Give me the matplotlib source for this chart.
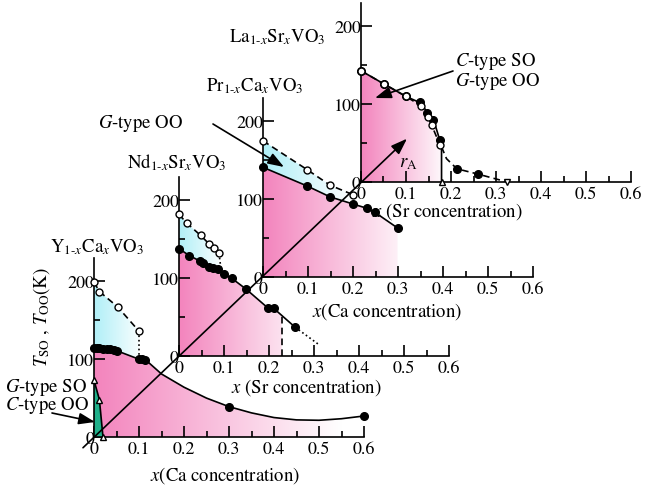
import numpy as np
import matplotlib
matplotlib.use("Agg")
import matplotlib.pyplot as plt
from matplotlib.colors import LinearSegmentedColormap

plt.rcParams["font.family"] = ["STIXGeneral", "DejaVu Serif"]
plt.rcParams["mathtext.fontset"] = "stix"
plt.rcParams["font.size"] = 13

# ---- data ----
# Y1-xCaxVO3
y_oo_x = [0, 0.012, 0.053, 0.1]
y_oo_t = [199, 187, 167, 136]
y_so_px = [0, 0.006, 0.012, 0.02, 0.028, 0.036, 0.045, 0.052, 0.1, 0.107, 0.114, 0.3, 0.6]
y_so_pt = [115, 114.5, 114, 113.5, 113, 112.5, 112, 111, 100, 100, 99.5, 39, 27]
y_so_cx = [0, 0.05, 0.1, 0.115, 0.15, 0.2, 0.25, 0.3, 0.35, 0.4, 0.45, 0.5, 0.55, 0.6]
y_so_ct = [115, 111, 100, 99, 81, 64, 50, 39, 31, 25, 22, 21.5, 23.5, 27]
y_g_x = [0, 0.012, 0.02]
y_g_t = [73, 48, 0]

# Nd1-xSrxVO3
nd_oo_x = [0, 0.017, 0.048, 0.067, 0.078, 0.089]
nd_oo_t = [182, 171, 155, 144, 139, 132]
nd_so_x = [0, 0.023, 0.047, 0.053, 0.067, 0.076, 0.087, 0.1, 0.117, 0.149, 0.198, 0.21, 0.258]
nd_so_t = [138, 129, 122, 120, 114, 113, 111.5, 105, 100, 86, 61.5, 61.5, 37]
nd_tail_x = [0.258, 0.31]
nd_tail_t = [37, 15]
nd_cut_x = 0.228

# Pr1-xCaxVO3
pr_oo_x = [0, 0.098, 0.149, 0.199]
pr_oo_t = [175, 138, 118, 106]
pr_so_x = [0, 0.098, 0.149, 0.199, 0.23, 0.249, 0.299]
pr_so_t = [141, 117, 103, 94, 88.5, 83, 63]

# La1-xSrxVO3
la_so_x = [0, 0.051, 0.1, 0.131, 0.147, 0.159, 0.176]
la_so_t = [143, 126, 110, 103, 89, 80, 54]
la_oo_x = [0, 0.051, 0.1, 0.133, 0.15, 0.157, 0.176]
la_oo_t = [143, 126, 110, 98, 83, 73, 47]
la_line_x = [0, 0.051, 0.1, 0.131, 0.15, 0.165, 0.176, 0.179, 0.179]
la_line_t = [143, 126, 110, 102, 88, 73, 52, 42, 0]
la_tail_x = [0.179, 0.19, 0.213, 0.261, 0.325]
la_tail_t = [45, 30, 17, 10, 0]
la_tail_px = [0.213, 0.261]
la_tail_pt = [16.7, 10]

xticks = [0, 0.1, 0.2, 0.3, 0.4, 0.5, 0.6]
xticklabels = ["0", "0.1", "0.2", "0.3", "0.4", "0.5", "0.6"]
yticks = [0, 100, 200]

PINK = "#f384bd"
CYAN = "#b0eff7"
GREEN = "#1fb08a"
FS = 13.5

W, H = 645, 489
fig = plt.figure(figsize=(W / 100, H / 100), dpi=100)

# panel origins in pixels (x from left, y from top)
origins = [(94, 438), (179, 357), (263, 278), (361, 183)]
PX_X = 450.0   # px per unit x
PX_T = 0.778   # px per K


def make_ax(ox, oy):
    ax = fig.add_axes([ox / W, (H - oy) / H, 0.6 * PX_X / W, 230 * PX_T / H])
    ax.patch.set_visible(False)
    ax.set_xlim(0, 0.6)
    ax.set_ylim(0, 230)
    for s in ("top", "right"):
        ax.spines[s].set_visible(False)
    for s in ("left", "bottom"):
        ax.spines[s].set_linewidth(1.2)
    ax.set_xticks(xticks)
    ax.set_xticklabels(xticklabels)
    ax.set_xticks(np.arange(0.05, 0.6, 0.1), minor=True)
    ax.set_yticks(yticks)
    ax.set_yticks([50, 150], minor=True)
    ax.tick_params(which="major", direction="in", length=8, width=1.2, labelsize=13)
    ax.tick_params(which="minor", direction="in", length=4, width=1.2)
    ax.tick_params(axis="y", pad=0)
    ax.tick_params(axis="x", pad=3)
    return ax


def grad_fill(ax, x, lo, hi, color, xend):
    poly = ax.fill_between(x, lo, hi, facecolor="none", edgecolor="none")
    cmap = LinearSegmentedColormap.from_list("g", [color, "white"])
    img = np.linspace(0, 1, 256).reshape(1, -1)
    im = ax.imshow(img, extent=[0, xend, 0, 230], aspect="auto", cmap=cmap,
                   origin="lower", zorder=0, interpolation="bilinear")
    im.set_clip_path(poly.get_paths()[0], transform=ax.transData)
    ax.set_xlim(0, 0.6)
    ax.set_ylim(0, 230)


filled = dict(marker="o", ms=5.5, mfc="k", mec="k", ls="none", clip_on=False, zorder=5)
opened = dict(marker="o", ms=5, mfc="white", mec="k", mew=1.0, ls="none", clip_on=False, zorder=6)
LW = 1.2
DASH = (0, (4, 2.5))

# ---- Y panel ----
ax = make_ax(*origins[0])
cx = np.linspace(0, 0.6, 200)
grad_fill(ax, cx, 0, np.interp(cx, y_so_cx, y_so_ct), PINK, 0.55)
cx2 = np.linspace(0, 0.1, 50)
grad_fill(ax, cx2, np.interp(cx2, y_so_cx, y_so_ct), np.interp(cx2, y_oo_x, y_oo_t), CYAN, 0.11)
ax.fill([0] + y_g_x, [0] + y_g_t, color=GREEN, zorder=2, lw=0)
ax.plot(y_g_x, y_g_t, color="k", lw=LW, zorder=3, clip_on=False)
ax.plot(y_g_x, y_g_t, marker="^", ms=5, mfc="white", mec="k", ls="none", clip_on=False, zorder=6)
ax.plot(y_so_cx, y_so_ct, color="k", lw=LW, zorder=3)
ax.plot(y_so_px, y_so_pt, **filled)
ax.plot(y_oo_x, y_oo_t, color="k", lw=LW, ls=DASH, zorder=3)
ax.plot([y_oo_x[-1], y_oo_x[-1]], [y_oo_t[-1], 100], color="k", lw=LW, ls=":", zorder=3)
ax.plot(y_oo_x, y_oo_t, **opened)

# ---- Nd panel ----
ax = make_ax(*origins[1])
cx = np.linspace(0, nd_cut_x, 100)
grad_fill(ax, cx, 0, np.interp(cx, nd_so_x, nd_so_t), PINK, 0.3)
cx2 = np.linspace(0, nd_oo_x[-1], 50)
grad_fill(ax, cx2, np.interp(cx2, nd_so_x, nd_so_t), np.interp(cx2, nd_oo_x, nd_oo_t), CYAN, 0.1)
ax.plot(nd_so_x, nd_so_t, color="k", lw=LW, zorder=3)
ax.plot(nd_tail_x, nd_tail_t, color="k", lw=LW, ls=":", zorder=3)
ax.plot([nd_cut_x, nd_cut_x], [0, np.interp(nd_cut_x, nd_so_x, nd_so_t)], color="k",
        lw=LW, ls=DASH, zorder=3)
ax.plot(nd_oo_x, nd_oo_t, color="k", lw=LW, ls=DASH, zorder=3)
ax.plot([nd_oo_x[-1], nd_oo_x[-1] + 0.005], [nd_oo_t[-1], np.interp(0.094, nd_so_x, nd_so_t)],
        color="k", lw=LW, ls=":", zorder=3)
ax.plot(nd_so_x, nd_so_t, **filled)
ax.plot(nd_oo_x, nd_oo_t, **opened)

# ---- Pr panel ----
ax = make_ax(*origins[2])
cx = np.linspace(0, pr_so_x[-1], 100)
grad_fill(ax, cx, 0, np.interp(cx, pr_so_x, pr_so_t), PINK, 0.34)
cx2 = np.linspace(0, pr_oo_x[-1], 50)
grad_fill(ax, cx2, np.interp(cx2, pr_so_x, pr_so_t), np.interp(cx2, pr_oo_x, pr_oo_t), CYAN, 0.2)
ax.plot(pr_so_x, pr_so_t, color="k", lw=LW, zorder=3)
ax.plot(pr_oo_x, pr_oo_t, color="k", lw=LW, ls=DASH, zorder=3)
ax.plot(pr_so_x, pr_so_t, **filled)
ax.plot(pr_oo_x, pr_oo_t, **opened)

# ---- La panel ----
ax = make_ax(*origins[3])
cx = np.linspace(0, 0.179, 100)
grad_fill(ax, cx, 0, np.interp(cx, la_line_x[:-1], la_line_t[:-1]), PINK, 0.19)
ax.plot(la_line_x, la_line_t, color="k", lw=LW, zorder=3)
ax.plot(la_oo_x, la_oo_t, color="k", lw=LW, ls=DASH, zorder=3)
ax.plot(la_tail_x, la_tail_t, color="k", lw=LW, ls=DASH, zorder=3)
ax.plot(la_so_x, la_so_t, **filled)
ax.plot(la_tail_px, la_tail_pt, **filled)
ax.plot(la_oo_x, la_oo_t, **opened)
ax.plot([0.179], [0], marker="^", ms=5, mfc="white", mec="k", ls="none", clip_on=False, zorder=6)
ax.plot([0.325], [0], marker="v", ms=5, mfc="white", mec="k", ls="none", clip_on=False, zorder=6)

# ---- overlay: diagonal r_A axis, labels, arrows ----
ov = fig.add_axes([0, 0, 1, 1])
ov.set_xlim(0, W)
ov.set_ylim(H, 0)
ov.axis("off")
ov.patch.set_visible(False)

ox = np.array([o[0] for o in origins], float)
oy = np.array([o[1] for o in origins], float)
k, b = np.polyfit(ox, oy, 1)
arrow = dict(arrowstyle="-|>,head_length=0.7,head_width=0.25", color="k", lw=LW,
             mutation_scale=14, shrinkA=0, shrinkB=0)
ov.annotate("", xy=(407, k * 407 + b), xytext=(83, k * 83 + b), arrowprops=arrow)
ov.text(408, 163, r"$r_{\mathrm{A}}$", fontsize=FS, ha="center", va="center")

ov.text(97, 247, r"Y$_{1\text{-}x}$Ca$_x$VO$_3$", fontsize=FS, ha="center", va="center")
ov.text(177, 163, r"Nd$_{1\text{-}x}$Sr$_x$VO$_3$", fontsize=FS, ha="center", va="center")
ov.text(255, 86, r"Pr$_{1\text{-}x}$Ca$_x$VO$_3$", fontsize=FS, ha="center", va="center")
ov.text(277, 37, r"La$_{1\text{-}x}$Sr$_x$VO$_3$", fontsize=FS, ha="center", va="center")

ov.text(225, 476, r"$x$(Ca concentration)", fontsize=FS, ha="center", va="center")
ov.text(306, 388, r"$x$ (Sr concentration)", fontsize=FS, ha="center", va="center")
ov.text(387, 312, r"$x$(Ca concentration)", fontsize=FS, ha="center", va="center")
ov.text(447, 212, r"$x$ (Sr concentration)", fontsize=FS, ha="center", va="center")

ov.text(42, 317, r"$T_{\mathrm{SO}}$ , $T_{\mathrm{OO}}$(K)", fontsize=FS, rotation=90,
        ha="center", va="center")

ov.text(5, 387, r"$G$-type SO", fontsize=FS, ha="left", va="center")
ov.text(5, 405, r"$C$-type OO", fontsize=FS, ha="left", va="center")
ov.annotate("", xy=(95, 423), xytext=(52, 414), arrowprops=arrow)

ov.text(98, 123, r"$G$-type OO", fontsize=FS, ha="left", va="center")
ov.annotate("", xy=(284, 168), xytext=(213, 125), arrowprops=arrow)

ov.text(455, 62, r"$C$-type SO", fontsize=FS, ha="left", va="center")
ov.text(455, 81, r"$G$-type OO", fontsize=FS, ha="left", va="center")
ov.annotate("", xy=(375, 99), xytext=(453, 72), arrowprops=arrow)

fig.savefig("out.png", dpi=100)
